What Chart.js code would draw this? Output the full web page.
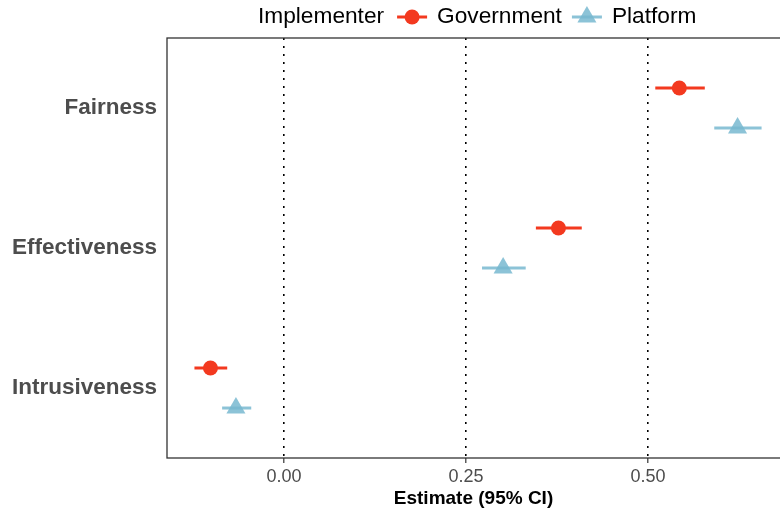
<!DOCTYPE html>
<html>
<head>
<meta charset="utf-8">
<script src="https://cdn.jsdelivr.net/npm/chart.js@4"></script>
<style>
  html, body { margin: 0; padding: 0; background: #fff; }
  #wrap { width: 780px; height: 510px; }
</style>
</head>
<body>
<div id="wrap"><canvas id="c" width="780" height="510"></canvas></div>
<script>
// ---- data ----
const categories = ['Fairness', 'Effectiveness', 'Intrusiveness'];
const seriesNames = ['Government', 'Platform'];
const govEst  = [0.543, 0.377, -0.101];
const govLo   = [0.510, 0.346, -0.123];
const govHi   = [0.578, 0.409, -0.078];
const platEst = [0.623, 0.301, -0.066];
const platLo  = [0.591, 0.272, -0.085];
const platHi  = [0.656, 0.332, -0.045];
const xTicks  = [0, 0.25, 0.5];
const legendTitle = 'Implementer';
const xTitle = 'Estimate (95% CI)';

// ---- styles ----
const govColor = '#F3391F';
const platColor = 'rgba(120,184,208,0.85)';
const dodge = 0.143;
const FONT = '"Liberation Sans", Arial, Helvetica, sans-serif';

const pointSets = [
  { label: seriesNames[0], data: govEst.map((v, i) => ({ x: v, y: i - dodge })),
    pointStyle: 'circle', pointRadius: 7.5, backgroundColor: govColor, borderColor: govColor, borderWidth: 0 },
  { label: seriesNames[1], data: platEst.map((v, i) => ({ x: v, y: i + dodge })),
    pointStyle: 'triangle', pointRadius: 11, backgroundColor: platColor, borderColor: platColor, borderWidth: 0 }
];
const errSets = [];
categories.forEach((c, i) => {
  errSets.push({ label: 'gov-ci-' + i, data: [{ x: govLo[i], y: i - dodge }, { x: govHi[i], y: i - dodge }],
    showLine: true, pointRadius: 0, borderColor: govColor, borderWidth: 3 });
  errSets.push({ label: 'plat-ci-' + i, data: [{ x: platLo[i], y: i + dodge }, { x: platHi[i], y: i + dodge }],
    showLine: true, pointRadius: 0, borderColor: platColor, borderWidth: 3 });
});

const boxPlugin = {
  id: 'box',
  afterDraw(chart) {
    const { ctx, chartArea: a } = chart;
    ctx.save();
    ctx.strokeStyle = '#333';
    ctx.lineWidth = 1.3;
    ctx.strokeRect(a.left, a.top, a.right - a.left + 2, a.bottom - a.top);
    ctx.restore();
  }
};

const legendPlugin = {
  id: 'customLegend',
  afterDraw(chart) {
    const ctx = chart.ctx;
    const y = 17;
    ctx.save();
    ctx.font = '22.7px ' + FONT;
    ctx.fillStyle = '#000';
    ctx.textBaseline = 'middle';
    ctx.textAlign = 'left';
    let x = 258;
    ctx.fillText(legendTitle, x, y);
    x += ctx.measureText(legendTitle).width + 13;
    pointSets.forEach((ds) => {
      ctx.strokeStyle = ds.borderColor;
      ctx.lineWidth = 3;
      ctx.beginPath(); ctx.moveTo(x, y); ctx.lineTo(x + 30, y); ctx.stroke();
      ctx.fillStyle = ds.backgroundColor;
      Chart.helpers.drawPoint(ctx, { pointStyle: ds.pointStyle, radius: ds.pointRadius, borderWidth: 0 }, x + 15, y);
      ctx.fillStyle = '#000';
      ctx.fillText(ds.label, x + 40, y);
      x += 40 + ctx.measureText(ds.label).width + 10;
    });
    ctx.restore();
  }
};

new Chart(document.getElementById('c'), {
  type: 'scatter',
  data: { datasets: pointSets.concat(errSets) },
  options: {
    responsive: false,
    animation: false,
    layout: { autoPadding: false, padding: { top: 38, right: 0, left: 0, bottom: 0 } },
    plugins: { legend: { display: false }, tooltip: { enabled: false } },
    scales: {
      x: {
        type: 'linear',
        min: -0.1607,
        max: 0.6813,
        afterBuildTicks: (s) => { s.ticks = xTicks.map(v => ({ value: v })); },
        afterFit: (s) => { s.height = 52; s.paddingLeft = 0; s.paddingRight = 0; },
        grid: { color: '#000', lineWidth: 1.6, drawTicks: true, tickLength: 5, tickColor: '#333', tickWidth: 1.2, tickBorderDash: [] },
        border: { display: false, dash: [2, 6] },
        ticks: { font: { family: FONT, size: 18 }, color: '#4d4d4d', padding: 3, maxRotation: 0,
                 callback: (v) => Number(v).toFixed(2) },
        title: { display: true, text: xTitle, color: '#000', font: { family: FONT, size: 19, weight: 'bold' }, padding: { top: 2, bottom: 0 } }
      },
      y: {
        type: 'linear',
        min: -0.5,
        max: 2.5,
        reverse: true,
        afterBuildTicks: (s) => { s.ticks = categories.map((c, i) => ({ value: i })); },
        afterFit: (s) => { s.width = 167; s.paddingTop = 0; s.paddingBottom = 0; },
        grid: { display: false, drawTicks: false },
        border: { display: false },
        ticks: { font: { family: FONT, size: 22.5, weight: 'bold' }, color: '#4d4d4d', padding: 10,
                 callback: (v) => categories[v] }
      }
    }
  },
  plugins: [boxPlugin, legendPlugin]
});
</script>
</body>
</html>
